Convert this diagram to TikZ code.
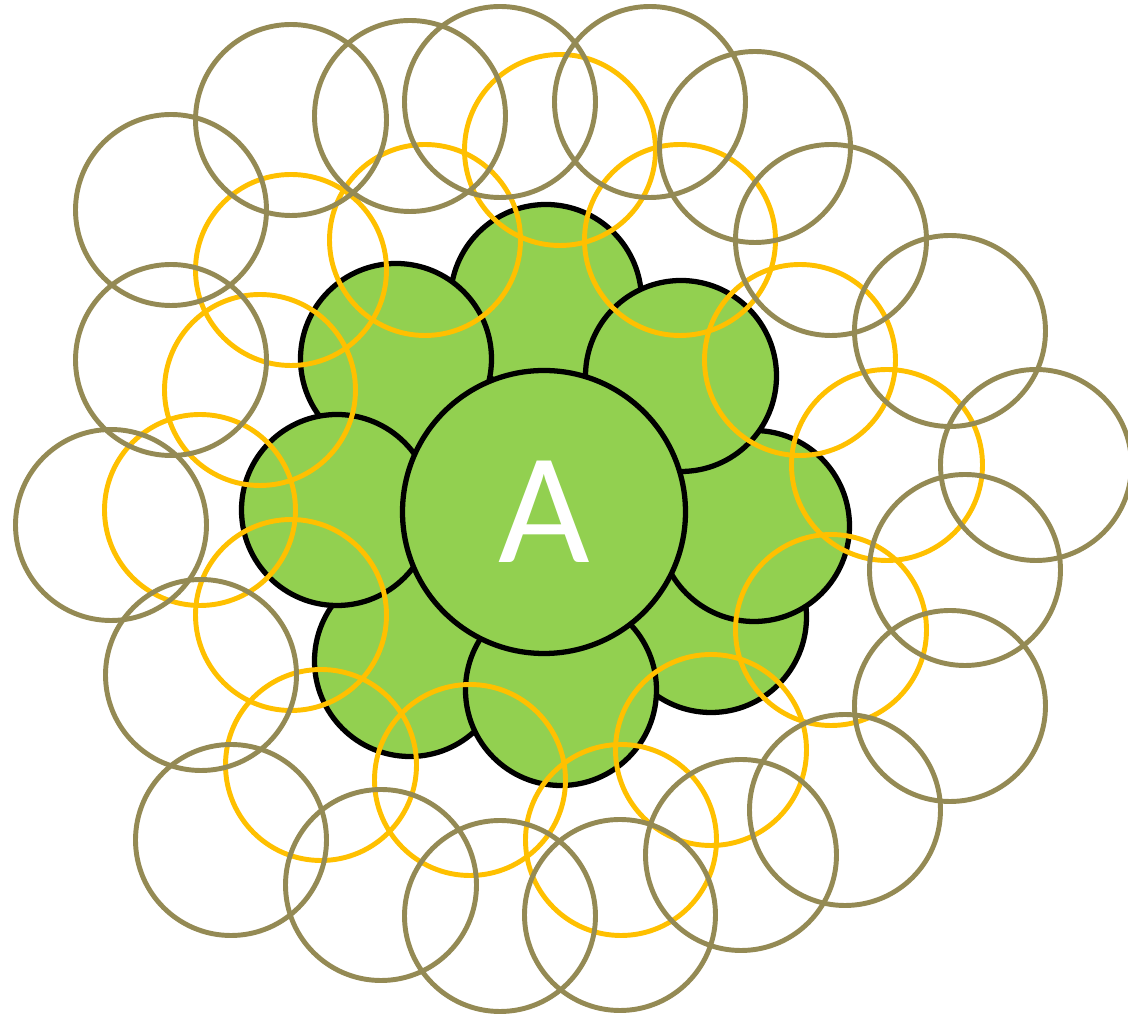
\documentclass[tikz,border=0pt]{standalone}
\usepackage{fontspec}
\usepackage{xcolor}
\usepackage{tikz}
\usetikzlibrary{positioning, calc}
\newfontfamily\labelfont{Carlito}
\definecolor{leafgreen}{HTML}{92D050}
\definecolor{ringyellow}{HTML}{FFC000}
\definecolor{ringolive}{HTML}{948A54}

\begin{document}
\begin{tikzpicture}[
    ball/.style={draw=black, line width=1.5pt, fill=leafgreen, circle, minimum size=1.91cm, inner sep=0pt},
    bigball/.style={ball, minimum size=2.83cm},
    yring/.style={draw=ringyellow, line width=1.4pt, circle, minimum size=1.91cm, inner sep=0pt},
    oring/.style={draw=ringolive, line width=1.4pt, circle, minimum size=1.91cm, inner sep=0pt}
]
    \useasboundingbox (0,0) rectangle (11.28,-10.17);

    % Green cluster
    \node[ball] (gtop) at (5.46,-3.00) {};
    \node[ball] (gupleft) at (3.96,-3.59) {};
    \node[ball] (glowleft) at (4.10,-6.61) {};
    \node[ball] (gleft) at (3.37,-5.10) {};
    \node[ball] (glowright) at (7.11,-6.17) {};
    \node[ball] (gbottom) at (5.61,-6.90) {};
    \node[ball] (gright) at (7.54,-5.26) {};
    \node[ball] (gupright) at (6.81,-3.76) {};

    % Centre
    \node[bigball, text=white, font=\labelfont\fontsize{45}{45}\selectfont] (A) at (5.44,-5.12) {A};

    % Yellow ring
    \node[yring] (y1) at (4.25,-2.40) {};
    \node[yring] (y2) at (5.60,-1.50) {};
    \node[yring] (y3) at (6.80,-2.40) {};
    \node[yring] (y4) at (8.00,-3.60) {};
    \node[yring] (y5) at (8.87,-4.65) {};
    \node[yring] (y6) at (8.31,-6.30) {};
    \node[yring] (y7) at (7.11,-7.50) {};
    \node[yring] (y8) at (6.21,-8.40) {};
    \node[yring] (y9) at (4.70,-7.80) {};
    \node[yring] (y10) at (3.21,-7.65) {};
    \node[yring] (y11) at (2.91,-6.15) {};
    \node[yring] (y12) at (2.00,-5.10) {};
    \node[yring] (y13) at (2.60,-3.90) {};
    \node[yring] (y14) at (2.91,-2.70) {};

    % Olive ring
    \node[oring] (o1) at (1.71,-2.10) {};
    \node[oring] (o2) at (2.91,-1.20) {};
    \node[oring] (o3) at (4.10,-1.16) {};
    \node[oring] (o4) at (5.00,-1.02) {};
    \node[oring] (o5) at (6.50,-1.02) {};
    \node[oring] (o6) at (7.55,-1.47) {};
    \node[oring] (o7) at (8.31,-2.40) {};
    \node[oring] (o8) at (9.50,-3.31) {};
    \node[oring] (o9) at (10.36,-4.65) {};
    \node[oring] (o10) at (9.65,-5.70) {};
    \node[oring] (o11) at (9.50,-7.06) {};
    \node[oring] (o12) at (8.45,-8.10) {};
    \node[oring] (o13) at (7.41,-8.55) {};
    \node[oring] (o14) at (6.20,-9.15) {};
    \node[oring] (o15) at (5.00,-9.16) {};
    \node[oring] (o16) at (3.81,-8.85) {};
    \node[oring] (o17) at (2.31,-8.40) {};
    \node[oring] (o18) at (2.01,-6.75) {};
    \node[oring] (o19) at (1.11,-5.25) {};
    \node[oring] (o20) at (1.71,-3.60) {};
\end{tikzpicture}
\end{document}
